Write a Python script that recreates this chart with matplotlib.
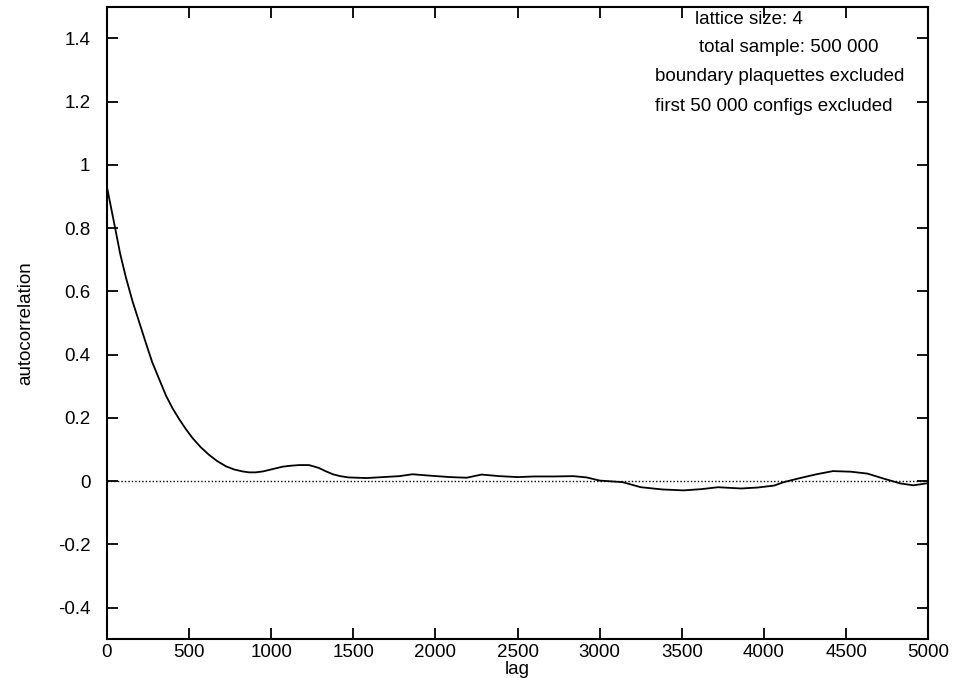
import numpy as np
from matplotlib import pyplot as plt

plt.rcParams['font.family'] = ['Liberation Sans', 'DejaVu Sans']

# autocorrelation
lag = [0, 25, 50, 80, 115, 155, 195, 235, 275, 320, 360, 400, 440, 480, 520,
       570, 620, 670, 725, 775, 825, 865, 905, 950, 990, 1030, 1070, 1120,
       1170, 1230, 1290, 1330, 1375, 1420, 1470, 1580, 1680, 1780, 1860, 1980,
       2090, 2190, 2280, 2390, 2500, 2600, 2720, 2840, 2920, 3000, 3140, 3250,
       3380, 3510, 3620, 3720, 3860, 3960, 4060, 4120, 4220, 4320, 4420, 4530,
       4630, 4730, 4830, 4910, 5000]
autocorr = [0.93, 0.865, 0.80, 0.72, 0.645, 0.57, 0.505, 0.44, 0.377, 0.32,
            0.27, 0.23, 0.196, 0.165, 0.137, 0.108, 0.084, 0.064, 0.047,
            0.037, 0.031, 0.028, 0.028, 0.031, 0.036, 0.041, 0.046, 0.049,
            0.051, 0.051, 0.042, 0.032, 0.022, 0.016, 0.012, 0.010, 0.013,
            0.016, 0.022, 0.017, 0.013, 0.011, 0.021, 0.016, 0.013, 0.015,
            0.015, 0.016, 0.012, 0.002, -0.003, -0.019, -0.026, -0.029, -0.025,
            -0.019, -0.023, -0.020, -0.014, -0.003, 0.010, 0.022, 0.032, 0.030,
            0.024, 0.008, -0.007, -0.013, -0.006]

xticks = np.arange(0, 5001, 500)
yticks = [-0.4, -0.2, 0, 0.2, 0.4, 0.6, 0.8, 1, 1.2, 1.4]
ytick_labels = ["-0.4", "-0.2", "0", "0.2", "0.4", "0.6", "0.8", "1", "1.2", "1.4"]

notes = ["lattice size: 4",
         "total sample: 500 000",
         "boundary plaquettes excluded",
         "first 50 000 configs excluded"]

fs = 13.5
fig = plt.figure(figsize=(9.55, 6.78), dpi=100)
ax = fig.add_axes([0.112, 0.057, 0.860, 0.933])

ax.plot(lag, autocorr, color="black", lw=1.3, solid_joinstyle="round")
ax.plot([0, 5000], [0, 0], color="black", lw=1.0, linestyle=(0, (1, 1.5)))

ax.set_xlim(0, 5000)
ax.set_ylim(-0.5, 1.5)
ax.set_xticks(xticks)
ax.set_yticks(yticks)
ax.set_yticklabels(ytick_labels)
ax.tick_params(direction="in", length=8, width=1.3, top=True, right=True,
               labelsize=fs)
ax.tick_params(axis="x", pad=3)
ax.tick_params(axis="y", pad=12)
for s in ax.spines.values():
    s.set_linewidth(1.5)

ax.set_xlabel("lag", fontsize=fs, labelpad=0)
ax.set_ylabel("autocorrelation", fontsize=fs, labelpad=17)

# note lines, placed the way the original labels sit
note_x = [0.716, 0.721, 0.667, 0.667]
note_y = [0.980, 0.935, 0.889, 0.843]
for t, x, y in zip(notes, note_x, note_y):
    ax.text(x, y, t, transform=ax.transAxes, fontsize=fs, va="center", ha="left")

plt.savefig("out.png", dpi=100)
